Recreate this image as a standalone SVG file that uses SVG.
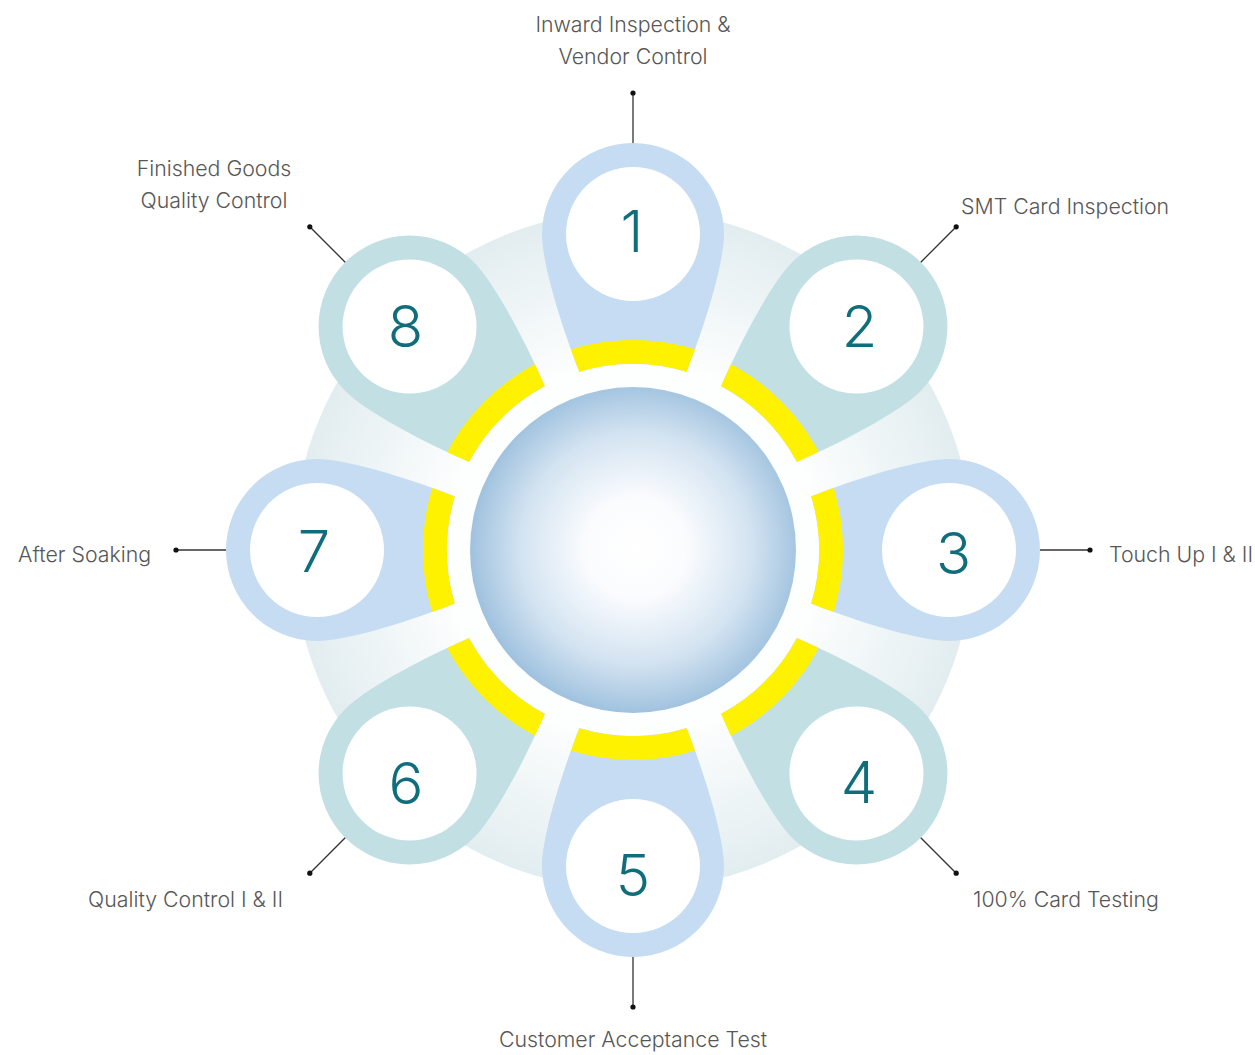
<svg xmlns="http://www.w3.org/2000/svg" width="1255" height="1055" viewBox="0 0 1255 1055">
<defs>
<radialGradient id="bgGrad" cx="633" cy="550" r="340" gradientUnits="userSpaceOnUse">
<stop offset="0" stop-color="#ffffff"/>
<stop offset="0.55" stop-color="#fdfefe"/>
<stop offset="1" stop-color="#e2edf0"/>
</radialGradient>
<radialGradient id="sphereGrad" cx="636" cy="548" r="165" gradientUnits="userSpaceOnUse">
<stop offset="0" stop-color="#ffffff"/>
<stop offset="0.3" stop-color="#fbfcfe"/>
<stop offset="0.7" stop-color="#d3e3f1"/>
<stop offset="1" stop-color="#a0c2df"/>
</radialGradient>
<path id="petal" d="M -53.57 -178.1 C -76.1 -236 -91 -290.4 -91 -316 A 91 91 0 1 1 91 -316 C 91 -290.4 76.1 -236 53.57 -178.1 A 186 186 0 0 0 -53.57 -178.1 Z"/>
<clipPath id="petalClip">
<path d="M -53.57 -178.1 C -76.1 -236 -91 -290.4 -91 -316 A 91 91 0 1 1 91 -316 C 91 -290.4 76.1 -236 53.57 -178.1 A 186 186 0 0 0 -53.57 -178.1 Z"/>
</clipPath>
</defs>
<style>
.odd{fill:#c5dcf2}
.even{fill:#c2dfe4}
.band{fill:none;stroke:#fff200;stroke-width:24}
.hole{fill:#ffffff}
.num{font-family:Inter,"Noto Sans",sans-serif;font-weight:300;font-size:58px;fill:#0f6d7c;text-anchor:middle}
.lbl{font-family:Inter,"Noto Sans",sans-serif;font-weight:300;font-size:21.3px;fill:#575757}
.con line{stroke:#333333;stroke-width:1.3}
.con circle{fill:#111111}
</style>
<rect width="1255" height="1055" fill="#ffffff"/>
<circle cx="633" cy="550" r="340" fill="url(#bgGrad)"/>

<g id="node1">
<g transform="translate(633,550) rotate(0)"><use href="#petal" class="odd"/><circle class="band" r="198" clip-path="url(#petalClip)"/></g>
<circle class="hole" cx="633" cy="234" r="67"/>
<text class="num" x="632" y="252">1</text>
<text class="lbl" x="633" y="32" text-anchor="middle">Inward Inspection &amp;</text>
<text class="lbl" x="633" y="64" text-anchor="middle">Vendor Control</text>
</g>
<g id="node2">
<g transform="translate(633,550) rotate(45)"><use href="#petal" class="even"/><circle class="band" r="198" clip-path="url(#petalClip)"/></g>
<circle class="hole" cx="856.45" cy="326.55" r="67"/>
<text class="num" x="859.5" y="347">2</text>
<text class="lbl" x="961" y="214">SMT Card Inspection</text>
</g>
<g id="node3">
<g transform="translate(633,550) rotate(90)"><use href="#petal" class="odd"/><circle class="band" r="198" clip-path="url(#petalClip)"/></g>
<circle class="hole" cx="949" cy="550" r="67"/>
<text class="num" x="953.5" y="573.5">3</text>
<text class="lbl" x="1109" y="561.5">Touch Up I &amp; II</text>
</g>
<g id="node4">
<g transform="translate(633,550) rotate(135)"><use href="#petal" class="even"/><circle class="band" r="198" clip-path="url(#petalClip)"/></g>
<circle class="hole" cx="856.45" cy="773.45" r="67"/>
<text class="num" x="859" y="803">4</text>
<text class="lbl" x="973" y="907">100% Card Testing</text>
</g>
<g id="node5">
<g transform="translate(633,550) rotate(180)"><use href="#petal" class="odd"/><circle class="band" r="198" clip-path="url(#petalClip)"/></g>
<circle class="hole" cx="633" cy="866" r="67"/>
<text class="num" x="633" y="895.5">5</text>
<text class="lbl" x="633" y="1047" text-anchor="middle">Customer Acceptance Test</text>
</g>
<g id="node6">
<g transform="translate(633,550) rotate(225)"><use href="#petal" class="even"/><circle class="band" r="198" clip-path="url(#petalClip)"/></g>
<circle class="hole" cx="409.55" cy="773.45" r="67"/>
<text class="num" x="406" y="803.5">6</text>
<text class="lbl" x="283" y="907" text-anchor="end">Quality Control I &amp; II</text>
</g>
<g id="node7">
<g transform="translate(633,550) rotate(270)"><use href="#petal" class="odd"/><circle class="band" r="198" clip-path="url(#petalClip)"/></g>
<circle class="hole" cx="317" cy="550" r="67"/>
<text class="num" x="314" y="572">7</text>
<text class="lbl" x="151" y="561.5" text-anchor="end">After Soaking</text>
</g>
<g id="node8">
<g transform="translate(633,550) rotate(315)"><use href="#petal" class="even"/><circle class="band" r="198" clip-path="url(#petalClip)"/></g>
<circle class="hole" cx="409.55" cy="326.55" r="67"/>
<text class="num" x="405.5" y="347">8</text>
<text class="lbl" x="214" y="176" text-anchor="middle">Finished Goods</text>
<text class="lbl" x="214" y="208" text-anchor="middle">Quality Control</text>
</g>

<g id="hub">
<circle cx="633" cy="550" r="163" fill="url(#sphereGrad)"/>
</g>

<g id="connectors" class="con">
<line x1="633" y1="143" x2="633" y2="93"/><circle cx="633" cy="93" r="2.6"/>
<line x1="920.8" y1="262.2" x2="956.2" y2="226.8"/><circle cx="956.2" cy="226.8" r="2.6"/>
<line x1="1040" y1="550" x2="1090" y2="550"/><circle cx="1090" cy="550" r="2.6"/>
<line x1="920.8" y1="837.8" x2="956.2" y2="873.2"/><circle cx="956.2" cy="873.2" r="2.6"/>
<line x1="633" y1="957" x2="633" y2="1007"/><circle cx="633" cy="1007" r="2.6"/>
<line x1="345.2" y1="837.8" x2="309.8" y2="873.2"/><circle cx="309.8" cy="873.2" r="2.6"/>
<line x1="226" y1="550" x2="176" y2="550"/><circle cx="176" cy="550" r="2.6"/>
<line x1="345.2" y1="262.2" x2="309.8" y2="226.8"/><circle cx="309.8" cy="226.8" r="2.6"/>
</g>
</svg>
